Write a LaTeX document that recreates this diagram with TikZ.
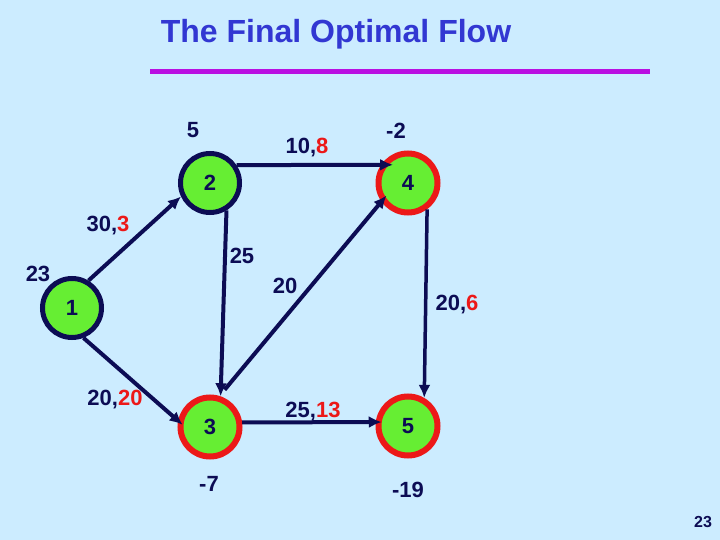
\documentclass[tikz,border=0pt]{standalone}
\usepackage{fontspec}
\usepackage{xcolor}
\usetikzlibrary{arrows.meta}
\setmainfont{Liberation Sans}
\definecolor{bgblue}{RGB}{204,236,255}
\definecolor{navy}{RGB}{12,12,84}
\definecolor{nodered}{RGB}{236,24,24}
\definecolor{nodegreen}{RGB}{102,238,51}
\definecolor{titleblue}{RGB}{50,55,210}
\definecolor{rulepurple}{RGB}{185,15,225}

\begin{document}
\begin{tikzpicture}[x=1pt,y=-1pt,
  vertex/.style={circle,minimum size=59pt,inner sep=0pt,fill=nodegreen,text=navy,
    font=\fontsize{22}{22}\selectfont\bfseries},
  source/.style={vertex,draw=navy,line width=5pt},
  sink/.style={vertex,draw=nodered,line width=6pt},
  flow/.style={-{Latex[length=13pt,width=12pt]},line width=4pt,draw=navy},
  lbl/.style={text=navy,inner sep=0pt,font=\fontsize{22}{22}\selectfont\bfseries}]
\fill[bgblue] (0,0) rectangle (720,540);
\useasboundingbox (0,0) rectangle (720,540);
% title and rule
\node[anchor=base,text=titleblue,font=\fontsize{32}{32}\selectfont\bfseries] (title) at (336,43) {The Final Optimal Flow};
\draw[rulepurple,line width=5pt] (150,72) -- (650,72);
% vertices
\node[source] (n1) at (72,308) {1};
\node[source] (n2) at (210,183) {2};
\node[sink] (n3) at (210,427) {3};
\node[sink] (n4) at (408,183) {4};
\node[sink] (n5) at (408,426) {5};
% arcs
\draw[flow] (n1.59) -- (n2.205);
\draw[flow,shorten >=-12pt] (n2.34) -- (n4.146);
\draw[flow] (n2.-59) -- (n3.71);
\draw[flow,shorten <=8pt,shorten >=-8pt] (n3.73) -- (n4.215);
\draw[flow,shorten >=-6pt] (n1.-69) -- (n3.169);
\draw[flow,shorten >=-6pt] (n3.8) -- (n5.173);
\draw[flow,line width=3.5pt] (n4.-54) -- (n5.60);
% supplies
\node[lbl] (b2) at (193,130) {5};
\node[lbl] (b4) at (396,131) {-2};
\node[lbl] (b1) at (38,274) {23};
\node[lbl] (b3) at (209,484) {-7};
\node[lbl] (b5) at (408,490) {-19};
% capacities and flows
\node[lbl] (f12) at (108,226) {30,{\color{nodered}3}};
\node[lbl] (f24) at (307,148) {10,{\color{nodered}8}};
\node[lbl] (f23) at (242,256) {25};
\node[lbl] (f34) at (285,286) {20};
\node[lbl] (f45) at (457,305) {20,{\color{nodered}6}};
\node[lbl] (f13) at (115,400) {20,{\color{nodered}20}};
\node[lbl] (f35) at (313,412) {25,{\color{nodered}13}};
% page number
\node[text=navy,inner sep=0pt,font=\fontsize{16}{16}\selectfont\bfseries] (page) at (703,522) {23};
\end{tikzpicture}
\end{document}
